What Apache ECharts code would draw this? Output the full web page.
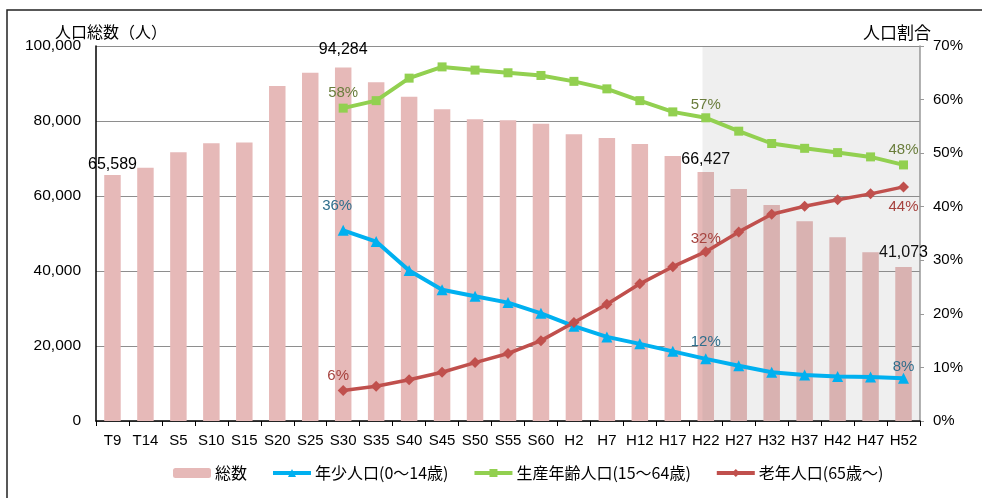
<!DOCTYPE html>
<html><head><meta charset="utf-8">
<script src="https://cdn.jsdelivr.net/npm/echarts@6/dist/echarts.min.js"></script>
<style>html,body{margin:0;padding:0;background:#fff}#c{width:982px;height:498px}</style>
</head><body><div id="c"></div>
<script>
// ---- data ----
const categories = ['T9','T14','S5','S10','S15','S20','S25','S30','S35','S40','S45','S50','S55','S60','H2','H7','H12','H17','H22','H27','H32','H37','H42','H47','H52'];
const totalPop = [65589, 67550, 71650, 74050, 74300, 89330, 92880, 94284, 90350, 86480, 83120, 80480, 80220, 79280, 76480, 75500, 73870, 70670, 66427, 61870, 57600, 53250, 48990, 44990, 41073];
const youngPct = [null, null, null, null, null, null, null, 35.6, 33.5, 28.1, 24.5, 23.3, 22.1, 20.1, 17.7, 15.7, 14.4, 13.0, 11.6, 10.3, 9.1, 8.6, 8.3, 8.2, 8.0];
const workingPct = [null, null, null, null, null, null, null, 58.4, 59.8, 64.0, 66.1, 65.5, 65.0, 64.5, 63.4, 62.0, 59.8, 57.7, 56.6, 54.1, 51.8, 50.9, 50.1, 49.3, 47.8];
const oldPct = [null, null, null, null, null, null, null, 5.7, 6.5, 7.7, 9.1, 10.9, 12.6, 15.0, 18.4, 21.8, 25.6, 28.8, 31.6, 35.3, 38.6, 40.1, 41.3, 42.4, 43.7];
const leftAxisTicks = {min: 0, max: 100000, interval: 20000};
const rightAxisTicks = {min: 0, max: 70, interval: 10};
const forecastSpan = [18.4, 25]; // shaded projection period, in category units
const seriesNames = ['総数', '年少人口(0～14歳)', '生産年齢人口(15～64歳)', '老年人口(65歳～)'];

// ---- label placement (style) ----
const barLabelSpec = [{i:0, d:2}, {i:7, d:10}, {i:18, d:4}, {i:24, d:6}];
const youngLabelSpec = [{i:7, d:11, dx:-6}, {i:18, d:4}, {i:24, d:-2}];
const workingLabelSpec = [{i:7, d:3.5}, {i:18, d:0.5}, {i:24, d:3}];
const oldLabelSpec = [{i:7, d:1.5, dx:-5}, {i:18, d:0}, {i:24, d:7, pos:'bottom'}];

const NUMFONT = "'Liberation Sans', Arial, sans-serif";
const JPFONT = "'Noto Sans CJK JP', sans-serif";

function withLabels(values, spec, color, fmt, size) {
  return values.map((v, idx) => {
    const s = spec.find(o => o.i === idx);
    if (!s || v == null) return v;
    return {
      value: v,
      label: {
        show: true,
        position: s.pos || 'top',
        distance: s.d,
        offset: [s.dx || 0, 0],
        color: color,
        fontFamily: NUMFONT,
        fontSize: size,
        formatter: fmt
      }
    };
  });
}

const fmtNum = p => p.value.toLocaleString('en-US');
const fmtPct = p => Math.round(p.value) + '%';

const chart = echarts.init(document.getElementById('c'), null, {renderer: 'canvas'});
chart.setOption({
  animation: false,
  backgroundColor: '#ffffff',
  textStyle: {fontFamily: NUMFONT},
  grid: {left: 96, right: 62, top: 46, bottom: 77, containLabel: false},
  graphic: [
    {type: 'rect', shape: {x: 7, y: 10, width: 1100, height: 700}, style: {fill: 'none', stroke: '#222', lineWidth: 1.5}, silent: true},
    {type: 'text', style: {x: 55, y: 32, text: '人口総数（人）', font: "16px 'Noto Sans CJK JP'", fill: '#000', verticalAlign: 'middle'}},
    {type: 'text', style: {x: 863, y: 33, text: '人口割合', font: "17px 'Noto Sans CJK JP'", fill: '#000', verticalAlign: 'middle'}}
  ],
  legend: {
    left: 168, top: 460,
    itemWidth: 38, itemHeight: 10, itemGap: 24,
    lineStyle: {width: 4},
    textStyle: {fontFamily: JPFONT, fontSize: 16, color: '#000', padding: [0, 0, 0, -1]},
    data: seriesNames
  },
  xAxis: [
    {
      type: 'category', data: categories, boundaryGap: true,
      axisLine: {show: true, lineStyle: {color: '#000', width: 1.5}},
      axisTick: {show: true, inside: false, length: 5, lineStyle: {color: '#000'}},
      axisLabel: {color: '#000', fontSize: 15, fontFamily: NUMFONT, margin: 12, interval: 0}
    },
    {type: 'value', min: 0, max: categories.length, show: false}
  ],
  yAxis: [
    {
      type: 'value', min: leftAxisTicks.min, max: leftAxisTicks.max, interval: leftAxisTicks.interval,
      axisLine: {show: true, lineStyle: {color: '#000', width: 1.5}},
      axisTick: {show: false},
      axisLabel: {color: '#000', fontSize: 15.5, fontFamily: NUMFONT, margin: 15, formatter: v => v.toLocaleString('en-US')},
      splitLine: {show: true, lineStyle: {color: '#8e8e8e', width: 1}}
    },
    {
      type: 'value', min: rightAxisTicks.min, max: rightAxisTicks.max, interval: rightAxisTicks.interval, position: 'right',
      axisLine: {show: true, lineStyle: {color: '#999', width: 1.5}},
      axisTick: {show: true, inside: false, length: 4, lineStyle: {color: '#999'}},
      axisLabel: {color: '#000', fontSize: 15, fontFamily: NUMFONT, margin: 13, formatter: '{value}%'},
      splitLine: {show: false}
    }
  ],
  series: [
    {
      name: seriesNames[0], type: 'bar', xAxisIndex: 0, yAxisIndex: 0, z: 2,
      barWidth: '50%',
      itemStyle: {color: '#e6b9b8'},
      data: withLabels(totalPop, barLabelSpec, '#000', fmtNum, 16)
    },
    {
      name: 'shade', type: 'custom', xAxisIndex: 1, yAxisIndex: 0, z: 3, silent: true,
      data: [forecastSpan],
      renderItem: (params, api) => {
        const p1 = api.coord([api.value(0), leftAxisTicks.max]);
        const p2 = api.coord([api.value(1), leftAxisTicks.min]);
        return {type: 'rect', shape: {x: p1[0], y: p1[1], width: p2[0] - p1[0], height: p2[1] - p1[1]},
                style: {fill: 'rgba(128,128,128,0.13)'}};
      }
    },
    {
      name: seriesNames[1], type: 'line', xAxisIndex: 0, yAxisIndex: 1, z: 5,
      symbol: 'triangle', symbolSize: 11,
      lineStyle: {color: '#00b0f0', width: 4}, itemStyle: {color: '#00b0f0'},
      data: withLabels(youngPct, youngLabelSpec, '#2f6e8c', fmtPct, 15)
    },
    {
      name: seriesNames[2], type: 'line', xAxisIndex: 0, yAxisIndex: 1, z: 5,
      symbol: 'rect', symbolSize: 9,
      lineStyle: {color: '#92d050', width: 4}, itemStyle: {color: '#92d050'},
      data: withLabels(workingPct, workingLabelSpec, '#6a7d3c', fmtPct, 15)
    },
    {
      name: seriesNames[3], type: 'line', xAxisIndex: 0, yAxisIndex: 1, z: 5,
      symbol: 'diamond', symbolSize: 11,
      lineStyle: {color: '#c0504d', width: 3.5}, itemStyle: {color: '#c0504d'},
      data: withLabels(oldPct, oldLabelSpec, '#a6433f', fmtPct, 15)
    }
  ]
});
</script>
</body></html>
